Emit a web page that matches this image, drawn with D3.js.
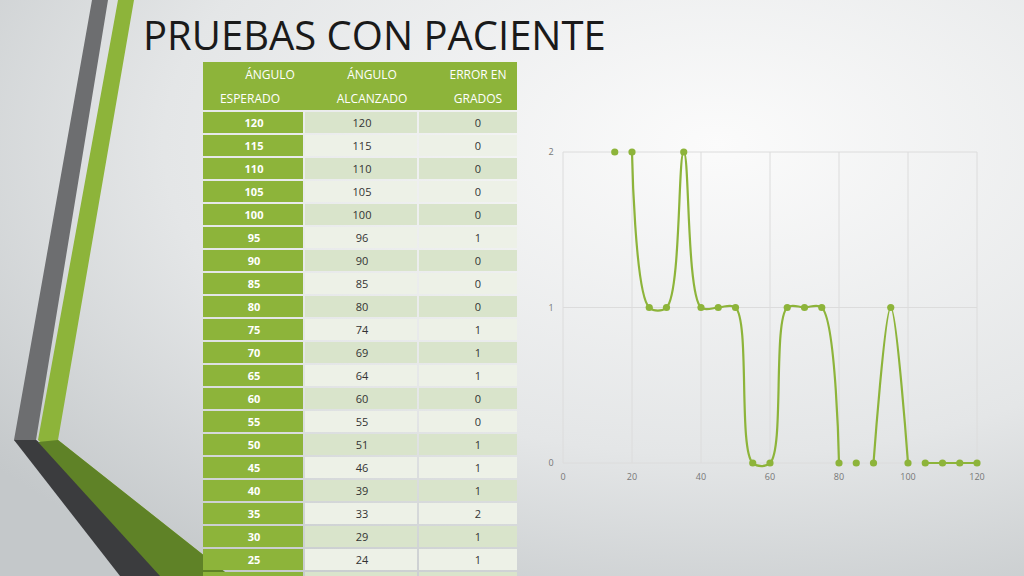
<!DOCTYPE html>
<html><head><meta charset="utf-8">
<script src="https://cdn.jsdelivr.net/npm/d3@7"></script>
<style>body{margin:0;overflow:hidden}svg{display:block}</style>
</head><body>
<svg id="s" width="1024" height="576"></svg>
<script>
const headers = [["ÁNGULO","ESPERADO"],["ÁNGULO","ALCANZADO"],["ERROR EN","GRADOS"]];
const esperado = [120,115,110,105,100,95,90,85,80,75,70,65,60,55,50,45,40,35,30,25,20];
const alcanzado = [120,115,110,105,100,96,90,85,80,74,69,64,60,55,51,46,39,33,29,24,""];
const errorG = [0,0,0,0,0,1,0,0,0,1,1,1,0,0,1,1,1,2,1,1,""];
const chartX = [15,20,25,30,35,40,45,50,55,60,65,70,75,80,85,90,95,100,105,110,115,120];
const chartY = [2,2,1,1,2,1,1,1,0,0,1,1,1,0,0,0,1,0,0,0,0,0];
const lineSegments = [[20,80],[90,100],[105,120]];
const xTicks = [0,20,40,60,80,100,120];
const yTicks = [0,1,2];

const svg = d3.select("#s");
const defs = svg.append("defs");
const g = defs.append("radialGradient").attr("id","bg").attr("cx","70%").attr("cy","25%").attr("r","90%");
g.append("stop").attr("offset","0").attr("stop-color","#fbfbfb");
g.append("stop").attr("offset","0.6").attr("stop-color","#e4e6e7");
g.append("stop").attr("offset","1").attr("stop-color","#c4c8ca");
svg.append("rect").attr("width",1024).attr("height",576).attr("fill","url(#bg)");

// decorative stripes
svg.append("polygon").attr("points","92,0 108,0 36,440 205,576 178,576 14,440").attr("fill","#6d6e70");
svg.append("polygon").attr("points","118,0 134,0 58,440 230,576 205,576 38,440").attr("fill","#8db43a");
svg.append("polygon").attr("points","14,440 36,440 205,576 120,576").attr("fill","#3b3c3e");
svg.append("polygon").attr("points","38,442 58,440 230,576 160,576").attr("fill","#5f8227");

svg.append("text").attr("x",143).attr("y",50).attr("font-family","Open Sans, sans-serif").attr("font-size",40).attr("fill","#1a1a1a").text("PRUEBAS CON PACIENTE");

// table
const colX = [203,305,419,517];
const tTop = 62, hh = 48, rh = 23;
const tf = "Open Sans, sans-serif";
svg.append("rect").attr("x",colX[0]).attr("y",tTop).attr("width",colX[3]-colX[0]).attr("height",hh).attr("fill","#8db43a");
headers.forEach((h,i)=>{
  const tx = [250,372,478][i];
  svg.append("text").attr("x",tx+(i==0?20:0)).attr("y",tTop+17).attr("text-anchor","middle").attr("font-family",tf).attr("font-size",12).attr("fill","#fff").text(h[0]);
  svg.append("text").attr("x",tx).attr("y",tTop+41).attr("text-anchor","middle").attr("font-family",tf).attr("font-size",12).attr("fill","#fff").text(h[1]);
});
esperado.forEach((v,r)=>{
  const y = tTop+hh+2+r*rh;
  svg.append("rect").attr("x",colX[0]).attr("y",y).attr("width",colX[1]-colX[0]-2).attr("height",rh-2).attr("fill","#8db43a");
  const c = r%2==0 ? "#d9e4cb" : "#edf1e7";
  svg.append("rect").attr("x",colX[1]).attr("y",y).attr("width",colX[2]-colX[1]-2).attr("height",rh-2).attr("fill",c);
  svg.append("rect").attr("x",colX[2]).attr("y",y).attr("width",colX[3]-colX[2]).attr("height",rh-2).attr("fill",c);
  svg.append("text").attr("x",254).attr("y",y+15).attr("text-anchor","middle").attr("font-family",tf).attr("font-weight","bold").attr("font-size",11).attr("fill","#fff").text(v);
  svg.append("text").attr("x",362).attr("y",y+15).attr("text-anchor","middle").attr("font-family",tf).attr("font-size",11).attr("fill","#333").text(alcanzado[r]);
  svg.append("text").attr("x",478).attr("y",y+15).attr("text-anchor","middle").attr("font-family",tf).attr("font-size",11).attr("fill","#333").text(errorG[r]);
});

// chart
const x = d3.scaleLinear().domain([0,120]).range([563,977]);
const y = d3.scaleLinear().domain([0,2]).range([463,152]);
const ch = svg.append("g");
xTicks.forEach(t=>{
  ch.append("line").attr("x1",x(t)).attr("x2",x(t)).attr("y1",y(2)).attr("y2",y(0)).attr("stroke","#dcdcdc");
  ch.append("text").attr("x",x(t)).attr("y",480).attr("text-anchor","middle").attr("font-family",tf).attr("font-size",9).attr("fill","#777").text(t);
});
yTicks.forEach(t=>{
  ch.append("line").attr("x1",x(0)).attr("x2",x(120)).attr("y1",y(t)).attr("y2",y(t)).attr("stroke","#dcdcdc");
  ch.append("text").attr("x",x(0)-12).attr("y",y(t)+3).attr("text-anchor","middle").attr("font-family",tf).attr("font-size",9).attr("fill","#777").text(t);
});
const pts = chartX.map((v,i)=>({x:v,y:chartY[i]}));
const line = d3.line().x(d=>x(d.x)).y(d=>y(d.y)).curve(d3.curveCatmullRom.alpha(0.5));
lineSegments.forEach(([a,b])=>{
  ch.append("path").attr("d",line(pts.filter(p=>p.x>=a&&p.x<=b))).attr("fill","none").attr("stroke","#8db43a").attr("stroke-width",2.2);
});
ch.selectAll("circle").data(pts).join("circle").attr("cx",d=>x(d.x)).attr("cy",d=>y(d.y)).attr("r",3.6).attr("fill","#8db43a");
</script>
</body></html>
